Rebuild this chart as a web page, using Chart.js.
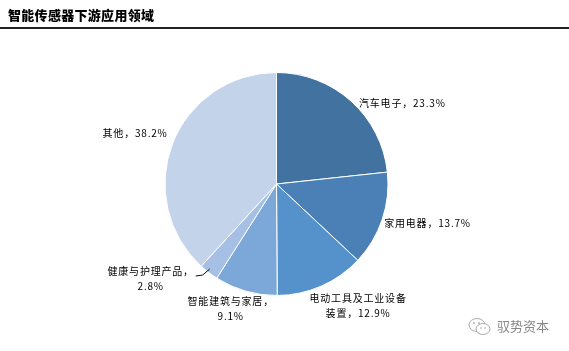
<!DOCTYPE html>
<html><head><meta charset="utf-8">
<script src="https://cdn.jsdelivr.net/npm/chart.js@4/dist/chart.umd.min.js"></script>
<style>
html,body{margin:0;padding:0;background:#fff;}
#wrap{position:relative;width:569px;height:351px;overflow:hidden;}
#title{position:absolute;left:8px;top:5px;font-family:"Noto Sans CJK SC";font-weight:900;font-size:13px;color:#000;letter-spacing:0.3px;}
#rule{position:absolute;left:0;top:27px;width:569px;height:2px;background:#222;}
#wm{position:absolute;left:497px;top:316px;font-family:"Noto Sans CJK SC";font-size:13px;color:#888;}
#wmicon{position:absolute;left:467px;top:316px;}
canvas{position:absolute;left:0;top:0;}
</style></head>
<body><div id="wrap">
<canvas id="c" width="569" height="351"></canvas>
<div id="title">智能传感器下游应用领域</div>
<div id="rule"></div>
<svg id="wmicon" width="26" height="22"><ellipse cx="10" cy="9" rx="8" ry="6.5" fill="none" stroke="#aaa" stroke-width="1"/><ellipse cx="16" cy="13" rx="7" ry="5.5" fill="#fff" stroke="#aaa" stroke-width="1"/><circle cx="7" cy="7" r="0.9" fill="#aaa"/><circle cx="12" cy="7" r="0.9" fill="#aaa"/><circle cx="14" cy="12" r="0.8" fill="#aaa"/><circle cx="18" cy="12" r="0.8" fill="#aaa"/></svg>
<div id="wm">驭势资本</div>
</div>
<script>
const categories = ["汽车电子","家用电器","电动工具及工业设备装置","智能建筑与家居","健康与护理产品","其他"];
const values = [23.3, 13.7, 12.9, 9.1, 2.8, 38.2];
const labelLines = [["汽车电子，23.3%"],["家用电器，13.7%"],["电动工具及工业设备","装置，12.9%"],["智能建筑与家居，","9.1%"],["健康与护理产品，","2.8%"],["其他，38.2%"]];
const colors = ["#42729f","#4a80b6","#5592cb","#7ca7d9","#a5c0e4","#c3d4ea"];
// label placement relative to the slice's outer mid-point
const labelPos = [
  {dx:8, dy:-3, align:"left"},
  {dx:2, dy:-1, align:"left"},
  {dx:37, dy:7, align:"center"},
  {dx:-15, dy:5, align:"center"},
  {dx:-58, dy:-6, align:"center", leader:true},
  {dx:-5, dy:-15, align:"right"}
];
const labelPlugin = {
  id:"labels",
  afterDatasetsDraw(chart){
    const ctx = chart.ctx;
    const meta = chart.getDatasetMeta(0);
    ctx.save();
    ctx.font = '10px "Noto Sans CJK SC"';
    try{ ctx.letterSpacing = "0.8px"; }catch(e){}
    ctx.fillStyle = "#000";
    ctx.textBaseline = "top";
    meta.data.forEach((arc,i)=>{
      const mid = (arc.startAngle+arc.endAngle)/2;
      const ex = arc.x + Math.cos(mid)*arc.outerRadius;
      const ey = arc.y + Math.sin(mid)*arc.outerRadius;
      const p = labelPos[i];
      const lx = ex + p.dx, ly = ey + p.dy;
      ctx.textAlign = p.align;
      labelLines[i].forEach((t,k)=>ctx.fillText(t, lx, ly + k*15));
      if(p.leader){
        ctx.strokeStyle="#111"; ctx.lineWidth=1;
        ctx.beginPath();
        ctx.moveTo(ex-13, ey+3.5);
        ctx.lineTo(ex-6, ey+2.5);
        ctx.lineTo(ex+1, ey-3.5);
        ctx.stroke();
      }
    });
    ctx.restore();
  }
};
new Chart(document.getElementById("c"),{
  type:"pie",
  data:{labels:categories,datasets:[{data:values,backgroundColor:colors,borderColor:"#fff",borderWidth:1}]},
  options:{
    responsive:false,animation:false,
    layout:{padding:{left:0,right:16,top:72,bottom:55}},
    plugins:{legend:{display:false},tooltip:{enabled:false},title:{display:false}}
  },
  plugins:[labelPlugin]
});
</script>
</body></html>
